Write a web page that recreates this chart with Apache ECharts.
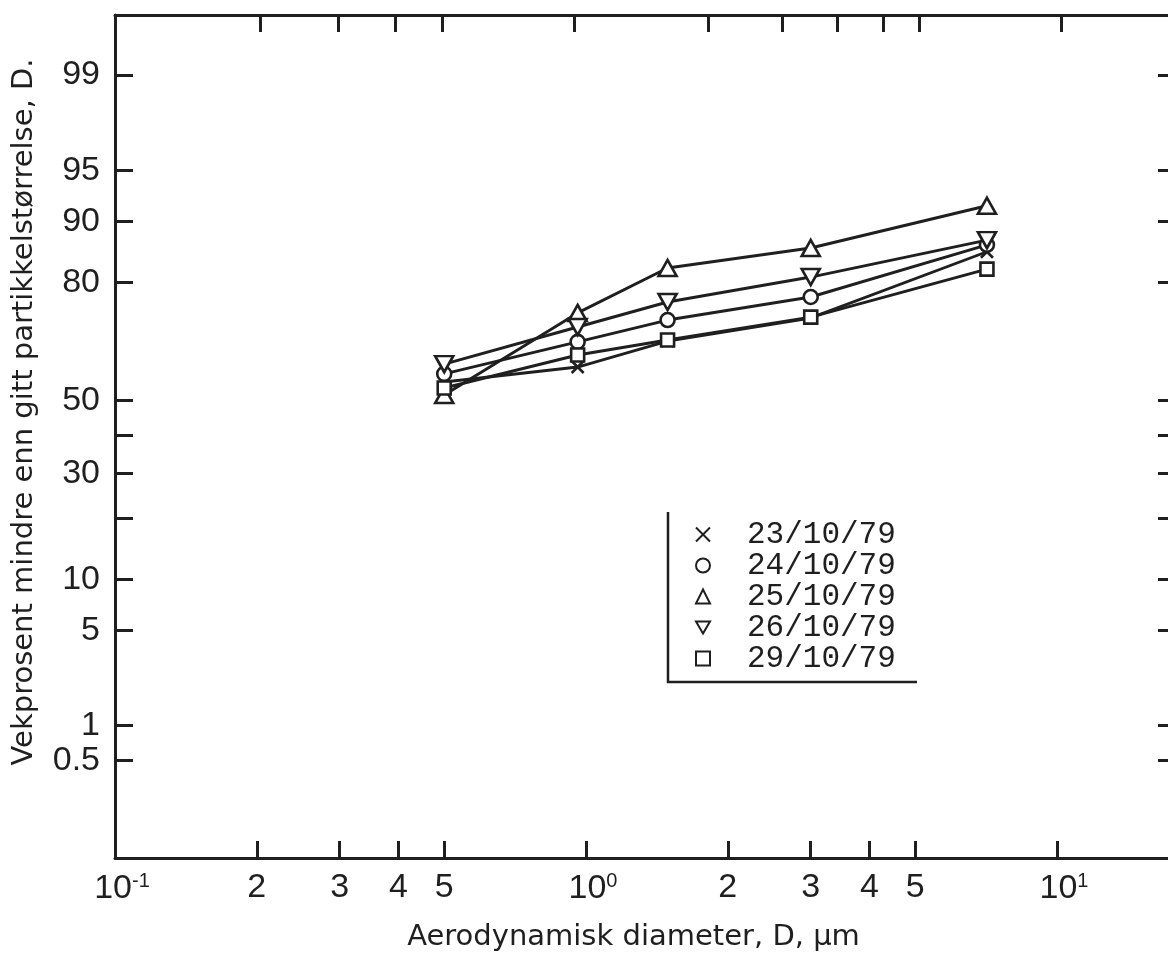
<!DOCTYPE html>
<html>
<head>
<meta charset="utf-8">
<title>Aerodynamisk diameter – vekprosent</title>
<script src="https://cdn.jsdelivr.net/npm/echarts@6/dist/echarts.min.js"></script>
<style>
  html, body { margin: 0; padding: 0; background: #ffffff; }
  #chart { width: 1168px; height: 961px; }
</style>
</head>
<body>
<div id="chart"></div>
<script>
// Particle diameters (µm) at which the cumulative mass fraction was measured
const diameters = [0.5, 0.96, 1.49, 3.0, 7.1];

// Weight percent smaller than the given particle size, one list per sampling day
const pct231079 = [55.2, 59.4, 66.4, 72.2, 85.6];
const pct241079 = [57.5, 66.2, 71.7, 77.0, 86.7];
const pct251079 = [51.5, 73.4, 82.8, 86.2, 91.8];
const pct261079 = [60.2, 70.0, 75.9, 81.1, 87.4];
const pct291079 = [53.5, 62.7, 66.7, 72.4, 82.6];

const seriesNames = ['23/10/79', '24/10/79', '25/10/79', '26/10/79', '29/10/79'];

// Log axis: labelled values and their printed text
const xLabelValues = [0.1, 0.2, 0.3, 0.4, 0.5, 1, 2, 3, 4, 5, 10];
const xLabelTexts = ['{n|10}{e|-1}', '2', '3', '4', '5', '{n|10}{e|0}', '2', '3', '4', '5', '{n|10}{e|1}'];
const xBottomTicks = [0.2, 0.3, 0.4, 0.5, 1, 2, 3, 4, 5, 10];
const xTopTicks = [0.203, 0.2975, 0.393, 0.495, 0.943, 1.815, 2.61, 3.41, 4.27, 5.09, 10.2];

// Probability axis: labelled percentages and tick-only percentages
const yLabelValues = [99, 95, 90, 80, 50, 30, 10, 5, 1, 0.5];
const yTickValues = [99, 95, 90, 80, 50, 40, 30, 20, 10, 5, 1, 0.5];

// Inverse standard normal CDF (Acklam's rational approximation)
function probit(p) {
  const a = [-3.969683028665376e+01, 2.209460984245205e+02, -2.759285104469687e+02,
             1.383577518672690e+02, -3.066479806614716e+01, 2.506628277459239e+00];
  const b = [-5.447609879822406e+01, 1.615858368580409e+02, -1.556989798598866e+02,
             6.680131188771972e+01, -1.328068155288572e+01];
  const c = [-7.784894002430293e-03, -3.223964580411365e-01, -2.400758277161838e+00,
             -2.549732539343734e+00, 4.374664141464968e+00, 2.938163982698783e+00];
  const d = [7.784695709041462e-03, 3.224671290700398e-01, 2.445134137142996e+00,
             3.754408661907416e+00];
  const pl = 0.02425, ph = 1 - pl;
  let q, r;
  if (p < pl) {
    q = Math.sqrt(-2 * Math.log(p));
    return (((((c[0]*q+c[1])*q+c[2])*q+c[3])*q+c[4])*q+c[5]) / ((((d[0]*q+d[1])*q+d[2])*q+d[3])*q+1);
  }
  if (p > ph) {
    q = Math.sqrt(-2 * Math.log(1 - p));
    return -(((((c[0]*q+c[1])*q+c[2])*q+c[3])*q+c[4])*q+c[5]) / ((((d[0]*q+d[1])*q+d[2])*q+d[3])*q+1);
  }
  q = p - 0.5; r = q * q;
  return (((((a[0]*r+a[1])*r+a[2])*r+a[3])*r+a[4])*r+a[5])*q /
         (((((b[0]*r+b[1])*r+b[2])*r+b[3])*r+b[4])*r+1);
}

const toX = d => Math.log10(d);
const toY = pct => probit(pct / 100);

function nearestIndex(list, v) {
  let best = 0, bestDist = Infinity;
  list.forEach((u, i) => { const dd = Math.abs(u - v); if (dd < bestDist) { bestDist = dd; best = i; } });
  return best;
}

const xLabelCoords = xLabelValues.map(toX);
const yLabelCoords = yLabelValues.map(toY);

const INK = '#1f1f1f';
const TICK_FONT = 'Liberation Sans, Arial, sans-serif';
const TITLE_FONT = 'DejaVu Sans, sans-serif';

// Marker shapes per series
const crossPath = 'path://M0,0L10,10M10,0L0,10';
const downTriPath = 'path://M0,0L20,0L10,17.3Z';
const symbols = [crossPath, 'circle', 'triangle', downTriPath, 'rect'];
const symbolSizes = [12, 14, [18, 16], [18, 16], 13];
const legendIcons = [crossPath, 'circle', 'triangle', downTriPath, 'rect'];
const seriesPct = [pct231079, pct241079, pct251079, pct261079, pct291079];

const series = seriesNames.map((name, i) => ({
  name: name,
  type: 'line',
  data: diameters.map((d, j) => [toX(d), toY(seriesPct[i][j])]),
  symbol: symbols[i],
  symbolSize: symbolSizes[i],
  showAllSymbol: true,
  lineStyle: { color: INK, width: 2.9 },
  itemStyle: { color: '#ffffff', borderColor: INK, borderWidth: 2.6 },
  emphasis: { disabled: true },
  z: 3
}));

const axisLineStyle = { color: INK, width: 3 };

const chart = echarts.init(document.getElementById('chart'), null, { renderer: 'canvas' });

chart.setOption({
  animation: false,
  backgroundColor: '#ffffff',
  grid: {
    left: 115, top: 15, width: 1057, height: 843,
    containLabel: false, outerBoundsMode: 'none'
  },
  legend: {
    orient: 'vertical',
    left: 695, top: 519,
    padding: 0,
    itemWidth: 14, itemHeight: 14, itemGap: 0,
    selectedMode: false,
    textStyle: {
      fontFamily: 'Liberation Mono, DejaVu Sans Mono, monospace',
      fontSize: 31, color: INK, lineHeight: 28.3,
      padding: [0, 0, 0, 32]
    },
    itemStyle: { color: '#ffffff', borderColor: INK, borderWidth: 2 },
    data: seriesNames.map((n, i) => ({ name: n, icon: legendIcons[i] }))
  },
  xAxis: [
    {
      type: 'value', position: 'bottom',
      min: -1, max: -1 + 1057 / 471,
      name: 'Aerodynamisk diameter, D, µm',
      nameLocation: 'middle', nameGap: 65,
      nameTextStyle: { fontFamily: TITLE_FONT, fontSize: 29, color: INK, padding: [0, 20, 0, 0] },
      axisLine: { show: true, onZero: false, lineStyle: axisLineStyle },
      axisTick: { show: true, inside: true, length: 17, lineStyle: axisLineStyle,
                  customValues: xBottomTicks.map(toX) },
      axisLabel: {
        show: true, margin: 13, color: INK, fontFamily: TICK_FONT, fontSize: 34,
        customValues: xLabelCoords,
        formatter: v => xLabelTexts[nearestIndex(xLabelCoords, v)],
        rich: {
          n: { fontFamily: TICK_FONT, fontSize: 34, color: INK, lineHeight: 36, padding: [0, 0, 0, 14] },
          e: { fontFamily: TICK_FONT, fontSize: 20, color: INK, verticalAlign: 'top', lineHeight: 20 }
        }
      },
      splitLine: { show: false }
    },
    {
      type: 'value', position: 'top',
      min: -1, max: -1 + 1057 / 471,
      axisLine: { show: true, onZero: false, lineStyle: axisLineStyle },
      axisTick: { show: true, inside: true, length: 17, lineStyle: axisLineStyle,
                  customValues: xTopTicks.map(toX) },
      axisLabel: { show: false },
      splitLine: { show: false }
    }
  ],
  yAxis: [
    {
      type: 'value', position: 'left',
      min: -3.274, max: 2.756,
      name: 'Vekprosent mindre enn gitt partikkelstørrelse, D.',
      nameLocation: 'middle', nameGap: 76,
      nameTextStyle: { fontFamily: TITLE_FONT, fontSize: 29, color: INK, padding: [0, 0, 0, 49] },
      axisLine: { show: true, onZero: false, lineStyle: axisLineStyle },
      axisTick: { show: true, inside: true, length: 18, lineStyle: axisLineStyle,
                  customValues: yTickValues.map(toY) },
      axisLabel: {
        show: true, margin: 15, color: INK, fontFamily: TICK_FONT, fontSize: 34,
        customValues: yLabelCoords,
        formatter: v => String(yLabelValues[nearestIndex(yLabelCoords, v)])
      },
      splitLine: { show: false }
    },
    {
      type: 'value', position: 'right',
      min: -3.274, max: 2.756,
      axisLine: { show: true, onZero: false, lineStyle: axisLineStyle },
      axisTick: { show: true, inside: true, length: 14, lineStyle: axisLineStyle,
                  customValues: yTickValues.map(toY) },
      axisLabel: { show: false },
      splitLine: { show: false }
    }
  ],
  graphic: [
    // bracket framing the legend
    { type: 'polyline', z: 10,
      shape: { points: [[668, 512], [668, 682], [917, 682]] },
      style: { stroke: INK, lineWidth: 2.5, fill: null } }
  ],
  series: series
});
</script>
</body>
</html>
